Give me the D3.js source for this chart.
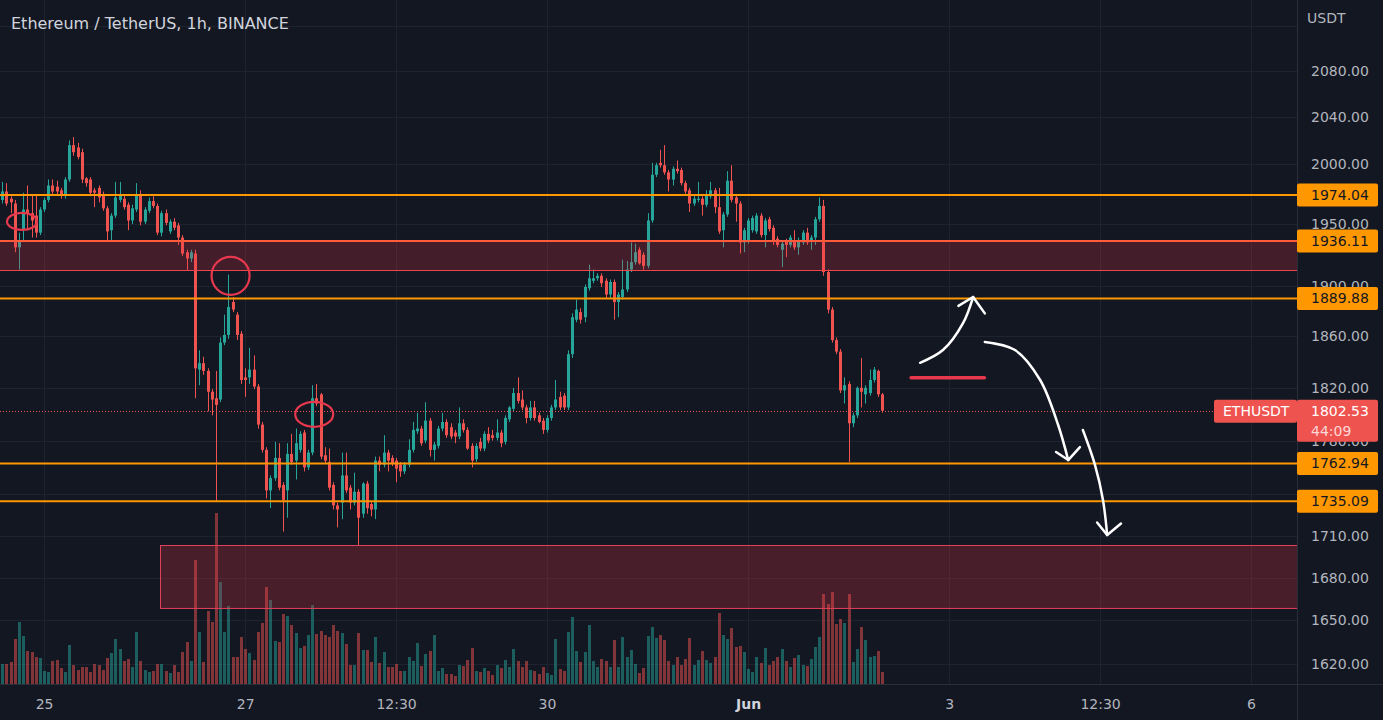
<!DOCTYPE html>
<html><head><meta charset="utf-8">
<script src="https://cdn.jsdelivr.net/npm/d3@7"></script>
<style>
html,body{margin:0;padding:0;background:#131722;overflow:hidden}
svg{display:block}
text{font-family:"DejaVu Sans",Verdana,sans-serif}
</style></head><body>
<svg id="c" width="1383" height="720"></svg>
<script>
// ---------- DATA ----------
const startTime = "2022-05-24T14:00:00Z"; // first hourly candle
const opens = [1970,1977,1971,1967,1931,1945,1962,1959,1957,1943,
1962,1970,1982,1981,1978,1974,1987,2016,2014,2010,
1988,1987,1978,1980,1974,1963,1945,1957,1970,1971,
1966,1953,1962,1974,1952,1961,1969,1965,1943,1959,
1944,1952,1949,1939,1927,1922,1926,1834,1839,1833,
1817,1812,1811,1855,1861,1887,1877,1862,1828,1828,
1834,1821,1792,1773,1743,1752,1767,1747,1743,1770,
1765,1773,1786,1760,1771,1812,1815,1769,1764,1747,
1732,1734,1754,1745,1734,1742,1726,1748,1733,1729,
1765,1762,1771,1767,1765,1762,1757,1762,1773,1787,
1789,1780,1795,1773,1776,1789,1794,1790,1786,1783,
1793,1788,1776,1766,1779,1774,1785,1784,1782,1786,
1779,1796,1804,1816,1811,1805,1797,1805,1799,1795,
1788,1797,1805,1813,1814,1805,1846,1873,1879,1875,
1898,1904,1906,1908,1904,1893,1903,1887,1891,1897,
1913,1919,1929,1925,1916,1953,1991,2001,1999,1993,
1987,1996,1995,1984,1978,1967,1970,1971,1966,1973,
1978,1964,1945,1958,1986,1972,1967,1935,1936,1945,
1944,1957,1941,1954,1947,1938,1929,1936,1933,1937,
1931,1935,1943,1937,1939,1954,1965,1911,1881,1857,
1848,1818,1823,1793,1799,1820,1815,1816,1826,1833,
1815];
const highs = [1985,1984,1973,1970,1943,1976,1982,1974,1974,1964,
1972,1987,1987,1986,1980,1989,2020,2023,2018,2013,
1989,1989,1980,1982,1977,1965,1959,1985,1985,1974,
1968,1966,1984,1978,1964,1972,1973,1967,1961,1962,
1954,1955,1951,1941,1929,1929,1929,1849,1844,1835,
1819,1833,1859,1877,1909,1891,1879,1864,1835,1851,
1845,1823,1794,1775,1754,1779,1778,1749,1778,1785,
1789,1787,1788,1773,1822,1823,1816,1775,1774,1749,
1734,1771,1771,1747,1756,1744,1749,1750,1735,1768,
1768,1784,1773,1769,1767,1764,1764,1781,1794,1801,
1791,1809,1797,1779,1791,1801,1796,1793,1788,1805,
1796,1790,1778,1778,1782,1787,1790,1788,1796,1788,
1799,1806,1820,1828,1818,1807,1810,1810,1801,1797,
1799,1807,1826,1817,1816,1849,1878,1889,1882,1901,
1917,1913,1910,1910,1906,1905,1905,1895,1921,1920,
1935,1934,1931,1927,1959,2001,2001,2012,2016,1995,
1998,2003,1997,1986,1980,1974,1985,1973,1978,1985,
1980,1980,1960,1994,1999,1974,1969,1947,1955,1957,
1959,1959,1955,1956,1949,1940,1936,1938,1941,1945,
1939,1945,1947,1941,1956,1972,1970,1913,1883,1859,
1850,1828,1825,1801,1821,1843,1822,1834,1836,1834,
1816];
const lows = [1967,1965,1959,1927,1913,1937,1945,1939,1939,1941,
1960,1968,1975,1974,1971,1971,1985,2007,2004,1984,
1981,1973,1964,1968,1961,1937,1937,1955,1968,1962,
1945,1950,1960,1949,1950,1959,1963,1941,1940,1949,
1942,1945,1933,1924,1912,1919,1812,1822,1830,1802,
1799,1735,1809,1853,1858,1879,1857,1823,1813,1823,
1819,1789,1771,1737,1730,1750,1743,1713,1723,1762,
1751,1771,1757,1758,1769,1806,1766,1763,1743,1729,
1716,1722,1741,1729,1732,1703,1723,1726,1724,1722,
1757,1760,1757,1761,1749,1753,1755,1760,1771,1785,
1776,1778,1768,1765,1774,1787,1782,1781,1778,1781,
1786,1773,1760,1764,1772,1772,1778,1780,1780,1775,
1777,1794,1802,1808,1803,1793,1795,1795,1793,1785,
1786,1795,1803,1803,1803,1803,1843,1871,1870,1871,
1896,1902,1904,1899,1890,1890,1873,1875,1889,1895,
1911,1917,1917,1913,1914,1951,1989,1997,1991,1977,
1982,1992,1982,1975,1960,1965,1968,1957,1964,1971,
1959,1942,1931,1956,1968,1952,1926,1927,1934,1943,
1942,1939,1931,1944,1933,1931,1915,1923,1931,1929,
1925,1933,1933,1929,1933,1952,1908,1878,1855,1846,
1816,1808,1764,1790,1797,1805,1808,1814,1824,1813,
1801];
const closes = [1977,1967,1968,1931,1936,1962,1959,1953,1943,1962,
1970,1982,1977,1977,1974,1987,2016,2010,2006,1987,
1984,1976,1976,1972,1963,1944,1957,1972,1974,1964,
1953,1963,1974,1952,1962,1969,1965,1943,1959,1951,
1952,1947,1939,1926,1922,1927,1835,1839,1833,1817,
1811,1807,1855,1861,1883,1881,1861,1826,1826,1834,
1821,1792,1773,1743,1752,1767,1745,1736,1770,1764,
1778,1785,1760,1771,1812,1808,1768,1765,1745,1732,
1729,1754,1743,1734,1742,1723,1748,1730,1729,1765,
1762,1771,1765,1763,1759,1757,1762,1773,1788,1789,
1778,1795,1773,1777,1789,1794,1784,1783,1783,1793,
1788,1774,1765,1776,1774,1785,1780,1782,1786,1778,
1797,1805,1816,1810,1805,1797,1805,1797,1794,1788,
1797,1805,1811,1805,1805,1846,1875,1881,1873,1899,
1906,1906,1908,1902,1893,1903,1887,1893,1897,1913,
1919,1927,1918,1916,1953,1991,1999,1999,1993,1987,
1996,1994,1984,1977,1967,1971,1971,1966,1974,1978,
1964,1944,1958,1986,1970,1967,1935,1945,1953,1955,
1957,1941,1953,1946,1937,1933,1934,1933,1939,1931,
1937,1943,1935,1939,1954,1965,1911,1881,1857,1848,
1818,1822,1793,1799,1820,1817,1820,1826,1834,1815,
1802.53];
const volumes = [20,20,22,45,62,48,33,32,27,26,
13,12,23,24,16,12,39,19,14,17,
17,12,20,19,14,26,31,45,35,23,
25,17,52,23,14,12,13,20,20,13,
11,19,12,32,42,23,124,52,22,73,
62,171,102,52,78,27,27,47,35,31,
24,52,61,97,84,43,42,70,68,59,
51,36,38,49,79,50,53,49,47,59,
53,51,40,19,19,51,34,34,22,47,
21,32,17,17,20,13,13,27,23,41,
18,30,33,49,13,16,10,10,8,19,
18,24,36,13,12,16,13,9,19,16,
24,17,35,23,17,23,14,13,10,17,
11,9,45,15,13,52,67,33,22,32,
59,23,17,25,23,17,44,17,47,27,
34,20,11,16,48,57,46,49,44,23,
19,27,19,25,46,19,24,33,24,21,
27,71,49,45,56,37,38,32,15,12,
27,21,36,19,23,27,35,23,17,26,
29,19,18,25,37,47,90,80,92,60,
65,61,90,22,35,57,44,27,28,33,
12];
const priceGrid = [2120,2080,2040,2000,1950,1900,1860,1820,1780,1740,1710,1680,1650,1620];
const priceLabels = [2080,2040,2000,1950,1900,1860,1820,1780,1710,1680,1650,1620];
const timeTickDates = ["2022-05-25T00:00:00Z","2022-05-27T00:00:00Z","2022-05-28T12:00:00Z","2022-05-30T00:00:00Z","2022-06-01T00:00:00Z","2022-06-03T00:00:00Z","2022-06-04T12:00:00Z","2022-06-06T00:00:00Z"];
const timeTickLabels = ["25","27","12:30","30","Jun","3","12:30","6"];
const orangeLevels = [1974.04, 1889.88, 1762.94, 1735.09];
const zoneTopLevel = 1936.11;
const zoneUpper = [1936.11, 1912.4];      // price range of upper zone
const zoneLower = [1703.3, 1658.7];       // price range of lower zone
const zoneLowerStartHour = 37.66;         // hours after first candle
const lastPrice = 1802.53;
const symbol = "ETHUSDT";
const countdown = "44:09";
const title = "Ethereum / TetherUS, 1h, BINANCE";
const currency = "USDT";

// annotations (hour offset from first candle, price)
const circles = [[4.73,1952.2,15,8.5],[54.5,1908,19,19],[74.46,1799.8,19,12.5]];
const redDash = [[216.9,1827.8],[234.4,1827.8]];
const arrows = [
  {path:[[219.05,1839.3],[224.5,1849.2],[229.3,1870.3],[231.7,1891.0]], head:[[228.2,1884],[231.7,1891.0],[234.5,1878]]},
  {path:[[234.5,1855.5],[241.7,1849.2],[247.7,1826],[252.0,1791.7],[254.4,1765.4]], head:[[251.5,1771.4],[254.4,1765.4],[257.2,1775.1]]},
  {path:[[257.9,1787.9],[260.8,1761.7],[262.7,1735.9],[263.7,1710.5]], head:[[261.3,1719.5],[263.7,1710.5],[267,1718.8]]}
];

// ---------- DRAW ----------
const W = 1383, Hh = 720, plotR = 1297, plotB = 684;
const HOUR = 3600e3;
const t0 = Date.parse(startTime);
const n = opens.length;
const times = opens.map((d,i)=>new Date(t0 + i*HOUR));
const x = d3.scaleUtc().domain([new Date(t0 - 0.525*HOUR), new Date(t0 + 309*HOUR)]).range([0, plotR]);
const y = d3.scaleLog().domain([1620, 2080]).range([664, 71]);
const yv = d3.scaleLinear().domain([0, d3.max(volumes)]).range([plotB, plotB - 171]);
const hx = h => x(new Date(t0 + h*HOUR));
const UP = "#26a69a", DN = "#ef5350";

const svg = d3.select("#c");
svg.append("rect").attr("width", W).attr("height", Hh).attr("fill", "#131722");

// grid
const grid = svg.append("g").attr("stroke", "#1f2330").attr("stroke-width", 1);
grid.selectAll("line.h").data(priceGrid).join("line").attr("class","h")
  .attr("x1",0).attr("x2",plotR).attr("y1",d=>Math.round(y(d))+0.5).attr("y2",d=>Math.round(y(d))+0.5);
grid.selectAll("line.v").data(timeTickDates).join("line").attr("class","v")
  .attr("y1",0).attr("y2",plotB).attr("x1",d=>Math.round(x(new Date(d)))+0.5).attr("x2",d=>Math.round(x(new Date(d)))+0.5);

// volume
const idx = d3.range(n);
svg.append("g").selectAll("rect").data(idx).join("rect")
  .attr("x", i=>Math.round(x(times[i]))-1).attr("width",3)
  .attr("y", i=>yv(volumes[i])).attr("height", i=>plotB - yv(volumes[i]))
  .attr("fill", i=> closes[i] >= opens[i] ? "rgba(38,166,154,0.5)" : "rgba(239,83,80,0.5)");

// candles
const cg = svg.append("g");
cg.selectAll("line").data(idx).join("line")
  .attr("x1", i=>Math.round(x(times[i]))+0.5).attr("x2", i=>Math.round(x(times[i]))+0.5)
  .attr("y1", i=>y(highs[i])).attr("y2", i=>y(lows[i]))
  .attr("stroke", i=> closes[i] >= opens[i] ? UP : DN).attr("stroke-width",1);
cg.selectAll("rect").data(idx).join("rect")
  .attr("x", i=>Math.round(x(times[i]))-1).attr("width",3)
  .attr("y", i=>y(Math.max(opens[i],closes[i])))
  .attr("height", i=>Math.max(1, Math.abs(y(opens[i])-y(closes[i]))))
  .attr("fill", i=> closes[i] >= opens[i] ? UP : DN);

// zones
svg.append("rect").attr("x",0).attr("width",plotR)
  .attr("y", y(zoneUpper[0])).attr("height", y(zoneUpper[1])-y(zoneUpper[0]))
  .attr("fill","rgba(242,54,69,0.22)");
svg.append("line").attr("x1",0).attr("x2",plotR).attr("y1",Math.round(y(zoneUpper[1]))+0.5).attr("y2",Math.round(y(zoneUpper[1]))+0.5)
  .attr("stroke","#f0444f").attr("stroke-width",1);
svg.append("rect").attr("x", hx(zoneLowerStartHour)+0.5).attr("width", plotR - hx(zoneLowerStartHour))
  .attr("y", Math.round(y(zoneLower[0]))+0.5).attr("height", y(zoneLower[1])-y(zoneLower[0]))
  .attr("fill","rgba(242,54,69,0.24)").attr("stroke","#e0405a").attr("stroke-width",1);

// level lines
svg.append("line").attr("x1",0).attr("x2",plotR).attr("y1",y(zoneTopLevel)).attr("y2",y(zoneTopLevel))
  .attr("stroke","#ff5b3a").attr("stroke-width",2);
svg.append("g").selectAll("line").data(orangeLevels).join("line")
  .attr("x1",0).attr("x2",plotR).attr("y1",d=>y(d)).attr("y2",d=>y(d))
  .attr("stroke","#ff9800").attr("stroke-width",2);

// last price dotted line
svg.append("line").attr("x1",0).attr("x2",plotR).attr("y1",Math.round(y(lastPrice))+0.5).attr("y2",Math.round(y(lastPrice))+0.5)
  .attr("stroke",DN).attr("stroke-width",1).attr("stroke-dasharray","1 2");

// annotations
const ag = svg.append("g");
ag.selectAll("ellipse").data(circles).join("ellipse")
  .attr("cx", d=>hx(d[0])).attr("cy", d=>y(d[1])).attr("rx", d=>d[2]).attr("ry", d=>d[3])
  .attr("fill","none").attr("stroke","#e8384d").attr("stroke-width",2.2);
ag.append("line").attr("x1",hx(redDash[0][0])).attr("x2",hx(redDash[1][0]))
  .attr("y1",y(redDash[0][1])).attr("y2",y(redDash[1][1]))
  .attr("stroke","#e8384d").attr("stroke-width",3.5).attr("stroke-linecap","round");
const aline = d3.line().x(d=>hx(d[0])).y(d=>y(d[1])).curve(d3.curveCatmullRom);
const hline = d3.line().x(d=>hx(d[0])).y(d=>y(d[1]));
arrows.forEach(a=>{
  ag.append("path").attr("d", aline(a.path)).attr("fill","none").attr("stroke","#ffffff")
    .attr("stroke-width",2.5).attr("stroke-linecap","round");
  ag.append("path").attr("d", hline(a.head)).attr("fill","none").attr("stroke","#ffffff")
    .attr("stroke-width",2.5).attr("stroke-linecap","round").attr("stroke-linejoin","round");
});

// borders
svg.append("line").attr("x1",plotR+0.5).attr("x2",plotR+0.5).attr("y1",0).attr("y2",Hh).attr("stroke","#2a2e39");
svg.append("line").attr("x1",0).attr("x2",W).attr("y1",plotB+0.5).attr("y2",plotB+0.5).attr("stroke","#2a2e39");

// axes
const yAxis = d3.axisRight(y).tickValues(priceLabels).tickFormat(d3.format(".2f")).tickSize(0).tickPadding(14);
const ya = svg.append("g").attr("transform",`translate(${plotR},0)`).call(yAxis);
ya.select(".domain").remove();
ya.selectAll("text").attr("fill","#b2b5be").style("font-size","14px").style("font-family","'DejaVu Sans',Verdana,sans-serif");

const tDates = timeTickDates.map(d=>new Date(d));
const xAxis = d3.axisBottom(x).tickValues(tDates).tickFormat((d,i)=>timeTickLabels[i]).tickSize(0).tickPadding(15);
const xa = svg.append("g").attr("transform",`translate(0,${plotB})`).call(xAxis);
xa.select(".domain").remove();
xa.selectAll("text").attr("fill","#b2b5be").style("font-size","14px").style("font-family","'DejaVu Sans',Verdana,sans-serif")
  .filter(d=>d.getUTCDate()===1).attr("fill","#d1d4dc").style("font-weight","bold");

// price boxes
const boxLevels = [1974.04, zoneTopLevel, 1889.88, 1762.94, 1735.09];
const bg = svg.append("g");
boxLevels.forEach(p=>{
  const yy = y(p);
  bg.append("rect").attr("x",plotR).attr("y",yy-11.5).attr("width",81).attr("height",23).attr("rx",2).attr("fill","#ff9800");
  bg.append("text").attr("x",plotR+14).attr("y",yy).attr("dy","0.36em").attr("fill","#131722")
    .style("font-size","14px").text(d3.format(".2f")(p));
});
const ly = y(lastPrice);
bg.append("rect").attr("x",1214).attr("y",ly-11).attr("width",plotR-1214).attr("height",23).attr("rx",2).attr("fill",DN);
bg.append("text").attr("x",1223).attr("y",ly).attr("dy","0.36em").attr("fill","#ffffff").style("font-size","14px").text(symbol);
bg.append("rect").attr("x",plotR).attr("y",ly-11).attr("width",81).attr("height",42).attr("rx",2).attr("fill",DN);
bg.append("text").attr("x",plotR+14).attr("y",ly).attr("dy","0.36em").attr("fill","#ffffff").style("font-size","14px").text(d3.format(".2f")(lastPrice));
bg.append("text").attr("x",plotR+14).attr("y",ly+20).attr("dy","0.36em").attr("fill","rgba(255,255,255,0.78)").style("font-size","14px").text(countdown);

// title & currency
svg.append("text").attr("x",11).attr("y",29).attr("fill","#d1d4dc").style("font-size","16px").text(title);
svg.append("text").attr("x",1307).attr("y",23).attr("fill","#b2b5be").style("font-size","14px").text(currency);
</script>
</body></html>
